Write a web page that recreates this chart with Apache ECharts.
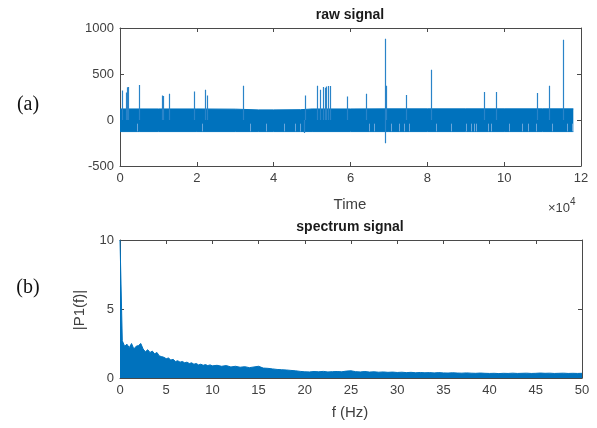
<!DOCTYPE html>
<html>
<head>
<meta charset="utf-8">
<script src="https://cdn.jsdelivr.net/npm/echarts@6/dist/echarts.min.js"></script>
<style>html,body{margin:0;padding:0;background:#fff;}#c{width:597px;height:428px;}</style>
</head>
<body>
<div id="c"></div>
<script>
// ---- raw signal (time in samples, amplitude) ----
var bandT  = [0, 5000, 10000, 20000, 30000, 36000, 40000, 47000, 50000, 60000, 70000, 80000, 90000, 100000, 110000, 118000];
var bandHi = [120, 120, 120, 120, 118, 110, 110, 112, 120, 120, 121, 121, 121, 121, 121, 121];
var bandLo = [-126, -126, -126, -126, -126, -126, -126, -126, -126, -126, -126, -126, -126, -126, -126, -126];
var spikeT = [600, 1500, 2000, 2200, 5100, 10900, 11200, 12800, 19300, 22100, 22700, 32100, 48200, 51400, 52200, 52900, 53300, 53800, 54200, 54700, 59200, 64000, 69100, 69300, 74400, 80900, 94800, 98000, 108600, 111700, 115300];
var spikeV = [320, 300, 357, 360, 380, 266, 260, 284, 310, 328, 266, 371, 266, 371, 330, 360, 350, 365, 370, 370, 255, 284, 883, 371, 273, 546, 303, 303, 293, 371, 872];
var dipT = [48000, 69100];
var dipV = [-140, -253];
var streakT = [4500, 21300, 34000, 38000, 42700, 45600, 47000, 64900, 66200, 70500, 72600, 73900, 75200, 82200, 86300, 90200, 91500, 92200, 92800, 95800, 96700, 101200, 104600, 106300, 108300, 112500, 116300, 117600];

// ---- spectrum ----
var specF = [0, 0.25, 0.5, 0.75, 1, 1.25, 1.5, 1.75, 2, 2.25, 2.5, 2.75, 3, 3.25, 3.5, 3.75, 4, 4.25, 4.5, 4.75, 5, 5.25, 5.5, 5.75, 6, 6.25, 6.5, 6.75, 7, 7.25, 7.5, 7.75, 8, 8.25, 8.5, 8.75, 9, 9.25, 9.5, 9.75, 10,
  10.5, 11, 11.5, 12, 12.5, 13, 13.5, 14, 14.5, 15, 15.5, 16, 16.5, 17, 17.5, 18, 18.5, 19, 19.5, 20, 20.5, 21, 21.5, 22, 22.5, 23, 23.5, 24, 24.5, 25, 25.5, 26, 26.5, 27, 27.5, 28, 28.5, 29, 29.5, 30,
  30.5, 31, 31.5, 32, 32.5, 33, 33.5, 34, 34.5, 35, 35.5, 36, 36.5, 37, 37.5, 38, 38.5, 39, 39.5, 40, 40.5, 41, 41.5, 42, 42.5, 43, 43.5, 44, 44.5, 45, 45.5, 46, 46.5, 47, 47.5, 48, 48.5, 49, 49.5, 50];
var specMag = [10, 2.7, 2.3, 2.45, 2.2, 2.5, 2.1, 2.3, 2.35, 2.5, 2.1, 1.9, 2.05, 1.85, 1.95, 1.75, 1.85, 1.6, 1.55, 1.5, 1.4, 1.45, 1.3, 1.35, 1.2, 1.25, 1.15, 1.2, 1.1, 1.15, 1.05, 1.1, 1.0, 1.05, 0.95, 1.0, 0.92, 0.97, 0.9, 0.95, 0.88,
  0.92, 0.85, 0.9, 0.8, 0.85, 0.78, 0.82, 0.75, 0.8, 0.85, 0.72, 0.7, 0.66, 0.62, 0.6, 0.58, 0.55, 0.52, 0.48, 0.45, 0.44, 0.47, 0.45, 0.48, 0.44, 0.46, 0.47, 0.45, 0.5, 0.52, 0.46, 0.44, 0.47, 0.43, 0.45, 0.42, 0.44, 0.41, 0.43, 0.4,
  0.42, 0.39, 0.41, 0.38, 0.4, 0.38, 0.39, 0.37, 0.39, 0.37, 0.36, 0.38, 0.36, 0.35, 0.37, 0.35, 0.34, 0.36, 0.34, 0.33, 0.34, 0.32, 0.34, 0.33, 0.35, 0.33, 0.34, 0.35, 0.33, 0.34, 0.36, 0.34, 0.35, 0.33, 0.34, 0.35, 0.33, 0.34, 0.33, 0.34];

var BLUE = '#0072BD';
var AX = '#4a4a4a';
var LBL = '#404040';
var FONT = 'Liberation Sans, Arial, sans-serif';

function zip(a, b) { return a.map(function (v, i) { return [v, b[i]]; }); }
var spikeLines = spikeT.map(function (t, i) { return { coords: [[t, 0], [t, spikeV[i]]] }; })
  .concat(dipT.map(function (t, i) { return { coords: [[t, 0], [t, dipV[i]]] }; }));
var streakLines = streakT.map(function (t) { return { coords: [[t, -40], [t, -124]] }; });

function plain(v) { return String(v); }
function xAx(grid, min, max, interval, fmt, pos) {
  return {
    type: 'value', gridIndex: grid, min: min, max: max, interval: interval, position: pos,
    axisLine: { show: true, onZero: false, lineStyle: { color: AX, width: 1 } },
    axisTick: { show: true, inside: true, length: 4, lineStyle: { color: AX } },
    axisLabel: { show: pos === 'bottom', color: LBL, fontSize: 13, fontFamily: FONT, margin: 6, formatter: fmt || plain },
    splitLine: { show: false }
  };
}
function yAx(grid, min, max, interval, pos) {
  return {
    type: 'value', gridIndex: grid, min: min, max: max, interval: interval, position: pos,
    axisLine: { show: true, onZero: false, lineStyle: { color: AX, width: 1 } },
    axisTick: { show: true, inside: true, length: 4, lineStyle: { color: AX } },
    axisLabel: { show: pos === 'left', color: LBL, fontSize: 13, fontFamily: FONT, margin: 6, formatter: plain },
    splitLine: { show: false }
  };
}

var chart = echarts.init(document.getElementById('c'), null, { renderer: 'canvas' });
chart.setOption({
  animation: false,
  backgroundColor: '#fff',
  grid: [
    { left: 120, top: 28, width: 461, height: 138 },
    { left: 120, top: 240, width: 462, height: 138 }
  ],
  xAxis: [
    xAx(0, 0, 120000, 20000, function (v) { return String(v / 10000); }, 'bottom'),
    xAx(0, 0, 120000, 20000, null, 'top'),
    xAx(1, 0, 50, 5, null, 'bottom'),
    xAx(1, 0, 50, 5, null, 'top')
  ],
  yAxis: [
    yAx(0, -500, 1000, 500, 'left'),
    yAx(0, -500, 1000, 500, 'right'),
    yAx(1, 0, 10, 5, 'left'),
    yAx(1, 0, 10, 5, 'right')
  ],
  series: [
    { type: 'line', xAxisIndex: 0, yAxisIndex: 0, data: zip(bandT, bandHi), symbol: 'none', z: 2,
      lineStyle: { color: BLUE, width: 1 }, areaStyle: { color: BLUE, opacity: 1 } },
    { type: 'line', xAxisIndex: 0, yAxisIndex: 0, data: zip(bandT, bandLo), symbol: 'none', z: 2,
      lineStyle: { color: BLUE, width: 1 }, areaStyle: { color: BLUE, opacity: 1 } },
    { type: 'lines', coordinateSystem: 'cartesian2d', xAxisIndex: 0, yAxisIndex: 0, data: streakLines, z: 6,
      lineStyle: { color: '#6aa6da', width: 1, opacity: 1 } },
    { type: 'lines', coordinateSystem: 'cartesian2d', xAxisIndex: 0, yAxisIndex: 0, data: spikeLines, z: 6,
      lineStyle: { color: '#2a84c8', width: 1.2, opacity: 1 } },
    { type: 'line', xAxisIndex: 2, yAxisIndex: 2, data: zip(specF, specMag), symbol: 'none',
      lineStyle: { color: BLUE, width: 1 }, areaStyle: { color: BLUE, opacity: 1 } }
  ],
  graphic: [
    { type: 'text', x: 350, y: 15, style: { text: 'raw signal', font: 'bold 14px ' + FONT, fill: '#1a1a1a', align: 'center', verticalAlign: 'middle' } },
    { type: 'text', x: 350, y: 227, style: { text: 'spectrum signal', font: 'bold 14px ' + FONT, fill: '#1a1a1a', align: 'center', verticalAlign: 'middle' } },
    { type: 'text', x: 350, y: 205, style: { text: 'Time', font: '15px ' + FONT, fill: LBL, align: 'center', verticalAlign: 'middle' } },
    { type: 'text', x: 350, y: 413, style: { text: 'f (Hz)', font: '15px ' + FONT, fill: LBL, align: 'center', verticalAlign: 'middle' } },
    { type: 'text', x: 80, y: 310, rotation: Math.PI / 2, style: { text: '|P1(f)|', font: '15px ' + FONT, fill: LBL, align: 'center', verticalAlign: 'middle' } },
    { type: 'text', x: 548, y: 206, style: { text: '{a|×10}{b|4}', align: 'left', verticalAlign: 'middle',
        rich: { a: { font: '13px ' + FONT, fill: LBL, verticalAlign: 'bottom' }, b: { font: '10px ' + FONT, fill: LBL, verticalAlign: 'top', padding: [0, 0, 8, 0] } } } },
    { type: 'text', x: 28, y: 105, style: { text: '(a)', font: '20px Liberation Serif, Times New Roman, serif', fill: '#111', align: 'center', verticalAlign: 'middle' } },
    { type: 'text', x: 28, y: 288, style: { text: '(b)', font: '20px Liberation Serif, Times New Roman, serif', fill: '#111', align: 'center', verticalAlign: 'middle' } }
  ]
});
</script>
</body>
</html>
